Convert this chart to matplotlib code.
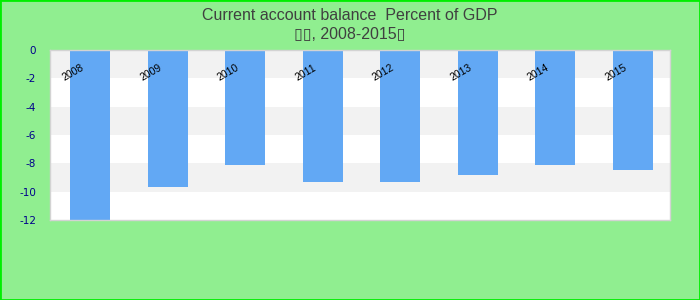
import numpy as np
import matplotlib.pyplot as plt
from matplotlib.patches import Rectangle

years = ["2008", "2009", "2010", "2011", "2012", "2013", "2014", "2015"]
balance = [-12.0, -9.65, -8.1, -9.35, -9.3, -8.8, -8.15, -8.45]
yticks = [0, -2, -4, -6, -8, -10, -12]
title = "Current account balance  Percent of GDP\n\u25af\u25af, 2008-2015\u25af"

fig = plt.figure(figsize=(7, 3), dpi=100, facecolor="#90ee90")
fig.patches.append(Rectangle((0, 0), 1, 1, transform=fig.transFigure,
                             fill=False, edgecolor="#00ee00", linewidth=2))
ax = fig.add_axes([50/700, 80/300, 620/700, 170/300])

# alternating bands
for i, lo in enumerate(range(0, -12, -2)):
    ax.axhspan(lo - 2, lo, color="#f2f2f2" if i % 2 == 0 else "white", zorder=0, lw=0)

x = np.arange(len(years))
ax.bar(x + 0.02, balance, width=0.52, color="#62a8f4", zorder=2)
for xi, yr in zip(x, years):
    ax.text(xi - 0.2, -1.6, yr, rotation=30, ha="center", va="center",
            fontsize=7.5, family="Liberation Sans", color="black", zorder=3)

ax.set_xlim(-0.5, len(years) - 0.5)
ax.set_ylim(-12, 0)
ax.set_xticks([])
ax.set_yticks(yticks)
ax.set_yticklabels([str(t) for t in yticks])
ax.tick_params(axis="y", length=0, pad=10, labelsize=7.5, labelcolor="#00008b")
for s in ax.spines.values():
    s.set_color("#d3d3d3")
    s.set_linewidth(1)

fig.text(0.5, 0.975, title, ha="center", va="top", fontsize=11.5,
         family=["Liberation Sans", "DejaVu Sans"], color="#404040", linespacing=1.35)

fig.savefig("out.png", dpi=100, facecolor=fig.get_facecolor())
